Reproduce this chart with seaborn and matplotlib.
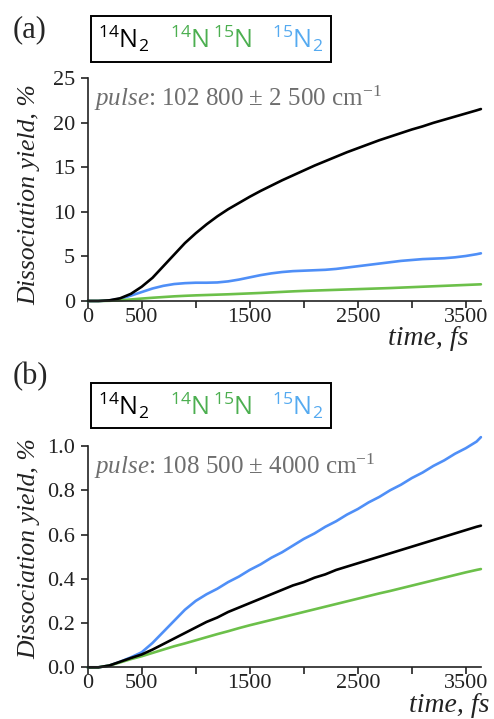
import matplotlib
matplotlib.use("Agg")
import matplotlib.pyplot as plt
import numpy as np
import pandas as pd
import seaborn as sns
from matplotlib.lines import Line2D

# ---------------- data ----------------
time_fs = [0, 100, 200, 300, 400, 500, 600, 700, 800, 900, 1000, 1100, 1200,
           1300, 1400, 1500, 1600, 1700, 1800, 1900, 2000, 2100, 2200, 2300,
           2400, 2500, 2600, 2700, 2800, 2900, 3000, 3100, 3200, 3300, 3400,
           3500, 3600, 3640]

# panel (a): pulse 102 800 +- 2 500 cm-1
a_14N2 = [0, 0, 0.07, 0.3, 0.8, 1.6, 2.6, 3.9, 5.2, 6.5, 7.6, 8.6, 9.5,
          10.3, 11.0, 11.7, 12.35, 12.95, 13.55, 14.1, 14.65, 15.2, 15.7, 16.2,
          16.7, 17.15, 17.6, 18.05, 18.45, 18.85, 19.25, 19.6, 20.0, 20.35, 20.7,
          21.05, 21.4, 21.55]
a_14N15N = [0, 0, 0.02, 0.08, 0.17, 0.27, 0.36, 0.44, 0.52, 0.58, 0.63, 0.67, 0.71,
            0.75, 0.8, 0.85, 0.9, 0.96, 1.02, 1.08, 1.13, 1.17, 1.21, 1.25,
            1.29, 1.33, 1.37, 1.41, 1.45, 1.5, 1.55, 1.6, 1.65, 1.7, 1.75,
            1.8, 1.85, 1.87]
a_15N2 = [0, 0, 0.05, 0.25, 0.6, 1.0, 1.4, 1.7, 1.9, 2.0, 2.05, 2.05, 2.08,
          2.2, 2.4, 2.65, 2.9, 3.1, 3.25, 3.35, 3.4, 3.45, 3.5, 3.6,
          3.75, 3.9, 4.05, 4.2, 4.35, 4.5, 4.6, 4.7, 4.75, 4.8, 4.9,
          5.05, 5.25, 5.35]

# panel (b): pulse 108 500 +- 4000 cm-1
b_14N2 = [0, 0, 0.008, 0.025, 0.042, 0.058, 0.08, 0.105, 0.13, 0.155, 0.18, 0.205,
          0.225, 0.25, 0.27, 0.29, 0.31, 0.33, 0.35, 0.37, 0.385, 0.405, 0.42,
          0.44, 0.455, 0.47, 0.485, 0.5, 0.515, 0.53, 0.545, 0.56, 0.575, 0.59,
          0.605, 0.62, 0.635, 0.64]
b_14N15N = [0, 0, 0.008, 0.022, 0.037, 0.05, 0.065, 0.08, 0.095, 0.108, 0.122, 0.136,
            0.15, 0.163, 0.177, 0.19, 0.202, 0.214, 0.226, 0.238, 0.25, 0.262,
            0.274, 0.286, 0.298, 0.31, 0.322, 0.334, 0.345, 0.357, 0.369, 0.381,
            0.393, 0.405, 0.417, 0.429, 0.44, 0.444]
b_15N2 = [0, 0, 0.008, 0.025, 0.045, 0.068, 0.11, 0.16, 0.21, 0.26, 0.3, 0.33,
          0.355, 0.385, 0.41, 0.44, 0.465, 0.495, 0.52, 0.55, 0.58, 0.605, 0.635,
          0.66, 0.69, 0.715, 0.745, 0.77, 0.8, 0.825, 0.855, 0.88, 0.91, 0.935,
          0.965, 0.99, 1.02, 1.04]

series_names = ["14N2", "14N15N", "15N2"]
legend_labels = [r"$\mathsf{^{14}N_2}$", r"$\mathsf{^{14}N\,^{15}N}$", r"$\mathsf{^{15}N_2}$"]
line_colors = ["#000000", "#6cc04a", "#4f8ff7"]
text_colors = ["#000000", "#4caf50", "#55aaf0"]

x_ticks = [0, 500, 1000, 1500, 2000, 2500, 3000, 3500]
x_ticklabels = ["0", "500", "", "1500", "", "2500", "", "3500"]
a_yticks = [0, 5, 10, 15, 20, 25]
b_yticks = [0.0, 0.2, 0.4, 0.6, 0.8, 1.0]

pulse_a = r"$\mathit{pulse}$: 102 800 ± 2 500 cm$^{-1}$"
pulse_b = r"$\mathit{pulse}$: 108 500 ± 4000 cm$^{-1}$"

# ---------------- style ----------------
sns.set_style("ticks")
plt.rcParams["font.family"] = ["Liberation Serif", "DejaVu Serif"]
plt.rcParams["mathtext.fontset"] = "custom"
plt.rcParams["mathtext.rm"] = "Liberation Serif"
plt.rcParams["mathtext.it"] = "Liberation Serif:italic"
plt.rcParams["mathtext.sf"] = "Open Sans"

fig = plt.figure(figsize=(4.94, 7.19), dpi=100)
ax_a = fig.add_axes([0.1775, 0.5814, 0.796, 0.3097])
ax_b = fig.add_axes([0.1775, 0.0719, 0.796, 0.3078])


def make_df(vals):
    rows = []
    for name, v in zip(series_names, vals):
        for t, y in zip(time_fs, v):
            rows.append({"time": t, "yield": y, "species": name})
    return pd.DataFrame(rows)


def draw(ax, vals, ylim, yticks, yfmt, pulse, leg_bottom, ylab_y, time_xy):
    df = make_df(vals)
    sns.lineplot(data=df, x="time", y="yield", hue="species",
                 palette=dict(zip(series_names, line_colors)),
                 hue_order=series_names[::-1], linewidth=1.9,
                 legend=False, ax=ax, clip_on=False)
    ax.set_xlim(0, 3640)
    ax.set_ylim(*ylim)
    ax.set_xticks(x_ticks)
    ax.set_xticklabels(x_ticklabels)
    ax.set_yticks(yticks)
    ax.set_yticklabels([yfmt.format(v) for v in yticks])
    for s in ["top", "right"]:
        ax.spines[s].set_visible(False)
    for s in ["left", "bottom"]:
        ax.spines[s].set_linewidth(1.2)
        ax.spines[s].set_color("#222222")
    ax.tick_params(axis="both", direction="out", length=5, width=1.2,
                   color="#222222", labelsize=16, labelcolor="#222222")
    ax.tick_params(axis="x", pad=0)
    ax.tick_params(axis="y", pad=4)
    ax.set_xlabel("")
    ax.set_ylabel("Dissociation yield, %", style="italic", fontsize=18.5,
                  color="#222222")
    ax.yaxis.set_label_coords(-0.121, ylab_y)
    ax.text(time_xy[0], time_xy[1], "time, fs",
            style="italic", fontsize=20, ha="right", va="baseline",
            color="#222222", transform=ax.transAxes, clip_on=False)
    ax.text(0.016, 0.875, pulse, fontsize=18, color="#6e6e6e",
            ha="left", va="baseline", transform=ax.transAxes)
    handles = [Line2D([], [], color="none") for _ in series_names]
    leg = ax.legend(handles, legend_labels, ncol=3, loc="lower left",
                    bbox_to_anchor=(0.0076, leg_bottom), frameon=True,
                    fancybox=False, edgecolor="black", framealpha=1,
                    handlelength=0, handletextpad=0, columnspacing=0.82,
                    borderpad=0.3, borderaxespad=0,
                    prop={"family": "Open Sans", "size": 18},
                    labelcolor=text_colors)
    leg.get_frame().set_linewidth(1.4)


draw(ax_a, [a_14N2, a_14N15N, a_15N2], (0, 25), a_yticks, "{:.0f}", pulse_a,
     1.0745, 0.476, (0.967, -0.198))
draw(ax_b, [b_14N2, b_14N15N, b_15N2], (0, 1.0), b_yticks, "{:.1f}", pulse_b,
     1.080, 0.535, (1.022, -0.2))

fig.text(12.7 / 494, 1 - 37 / 719, "(a)", fontsize=22, va="baseline", ha="left")
fig.text(12.7 / 494, 1 - 384 / 719, "(b)", fontsize=22, va="baseline", ha="left")

fig.savefig("out.png", dpi=100)
